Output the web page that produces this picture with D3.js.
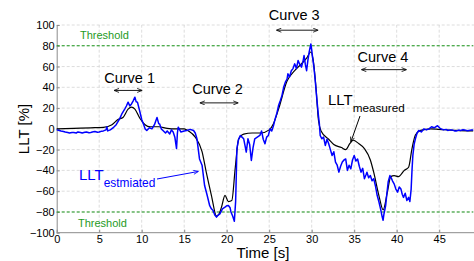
<!DOCTYPE html>
<html><head><meta charset="utf-8">
<script src="https://cdn.jsdelivr.net/npm/d3@7"></script>
<style>body{margin:0;background:#fff}svg{display:block;font-family:"Liberation Sans",Arial,sans-serif}</style>
</head><body><div id="chart"></div>
<script>
const xTicks = [0,5,10,15,20,25,30,35,40,45];
const yTicks = [-100,-80,-60,-40,-20,0,20,40,60,80,100];
const thresholds = [80,-80];
// LLT measured (black, smooth): [time s, %]
const measured = [[0,0],[2,0.5],[4,1],[5.5,1.5],[6.5,4],[7.2,9],[7.8,11],[8.4,19],[8.8,21],[9.2,19],[9.8,10],[10.4,4],[11,2],[12,2],[13,0.5],[14,0],[15,0],[15.5,-2],[16.3,-8],[17.1,-22],[17.6,-42],[18.2,-64],[18.8,-84],[19.1,-82],[19.4,-75],[19.8,-64],[20.2,-70],[20.6,-69],[21.0,-38],[21.4,-10],[22,-5],[23,-4],[24,-4],[25,-1],[25.5,5],[26.1,19],[27.1,46],[28,56],[28.6,61],[29.4,68],[29.9,74],[30.2,65],[30.5,40],[30.8,8],[31.1,-2],[32,-10],[32.6,-15],[33.5,-18],[34,-20],[34.5,-14],[34.9,-11],[35.5,-14],[36.2,-19],[36.9,-30],[37.3,-42],[37.9,-64],[38.4,-78],[38.9,-61],[39.3,-46],[39.7,-45],[40.2,-46],[40.9,-40],[41.4,-37],[41.8,-19],[42.2,-6],[42.8,-1.5],[44,0],[45,-0.5],[47,-1.5],[49,-2]];
// LLT estimated (blue, noisy): [time s, %]
const estimated = [[0,-1],[0.3,-1.5],[0.5,-2],[0.8,-2.5],[1,-3],[1.3,-3.5],[1.5,-4],[1.8,-3.5],[2,-3.5],[2.3,-4],[2.5,-3],[2.8,-3.5],[3,-4],[3.3,-3.2],[3.5,-3],[3.8,-3.8],[4,-3.5],[4.3,-2.8],[4.5,-2.5],[4.8,-3.2],[5,-3],[5.3,-2.2],[5.5,-2],[5.8,-1],[5.9,2],[6.0,-2],[6.3,-1],[6.7,1.5],[7.0,4],[7.4,9.6],[7.7,15],[8.0,19],[8.2,22],[8.4,25.7],[8.6,22],[8.8,24],[9.0,27],[9.2,30.5],[9.35,26],[9.5,25.7],[9.8,16],[10.0,9],[10.2,4.8],[10.4,0],[10.6,-1.6],[10.9,1],[11.2,0],[11.5,4],[11.8,11],[12.0,5],[12.1,4.8],[12.3,0],[12.5,-1.6],[12.8,-4],[13.0,-2],[13.3,-5],[13.5,-1],[13.7,-3],[13.9,-8],[14.1,-19],[14.2,-4],[14.3,1.6],[14.6,-3],[15.0,-2],[15.3,-1.6],[15.7,-0.5],[16.1,-1.6],[16.3,-4],[16.5,-9.6],[16.8,-29],[17.1,-35],[17.4,-54.6],[17.7,-64],[18.0,-74],[18.2,-77],[18.4,-78.6],[18.6,-83],[18.8,-85],[19.0,-83],[19.2,-81.8],[19.5,-77],[19.8,-75.4],[20.0,-74],[20.2,-73.8],[20.4,-76],[20.5,-80],[20.7,-84],[20.9,-89],[21.05,-70],[21.1,-54.6],[21.2,-19],[21.4,-10],[21.6,-6.4],[21.8,-8],[22.0,-9.6],[22.15,-16],[22.3,-22.4],[22.5,-9.6],[22.7,-15],[22.9,-30.5],[23.1,-18],[23.3,-9.6],[23.6,-8],[23.9,-6.4],[24.1,-2],[24.3,-10],[24.5,-14.4],[24.7,-8],[24.9,-6.4],[25.1,0],[25.3,-2],[25.5,3],[25.7,9.6],[25.9,15],[26.1,22.4],[26.3,27],[26.5,32],[26.7,40],[26.9,45],[27.1,48],[27.2,53],[27.4,50],[27.6,56],[27.8,58],[28.0,62.6],[28.2,58],[28.4,65.8],[28.6,62],[28.8,59.4],[29.0,66],[29.1,70.6],[29.25,62],[29.4,56],[29.55,66],[29.7,73.8],[29.9,81.8],[30.0,76],[30.1,69],[30.25,60],[30.4,48],[30.6,29],[30.8,12],[30.9,5],[31.0,-6.4],[31.2,-9.6],[31.4,-8],[31.6,-16],[31.8,-10],[32.0,-14.4],[32.2,-20],[32.4,-25.7],[32.6,-22],[32.8,-32],[33.0,-35],[33.2,-41.7],[33.4,-36],[33.6,-32],[33.8,-30],[34.0,-29],[34.2,-40],[34.4,-35],[34.6,-38.5],[34.8,-30],[35.0,-25.7],[35.2,-31],[35.4,-29],[35.6,-36],[35.8,-41.7],[36.0,-38],[36.2,-48],[36.4,-44],[36.5,-41.7],[36.7,-47],[36.9,-45],[37.1,-50],[37.3,-48],[37.5,-55],[37.7,-64],[37.9,-70],[38.1,-77],[38.3,-85],[38.4,-88],[38.5,-82],[38.7,-74],[38.85,-62],[39.0,-51],[39.2,-45],[39.4,-48],[39.5,-50],[39.7,-53],[39.9,-58],[40.1,-61],[40.3,-56],[40.5,-58],[40.65,-63],[40.8,-66],[41.0,-62],[41.2,-69],[41.4,-66],[41.55,-70],[41.7,-58],[41.8,-40],[41.9,-25.7],[42.05,-15],[42.2,-9.6],[42.4,-4],[42.6,-1.6],[42.9,-3],[43.2,0],[43.5,-1],[43.8,0],[44.1,2],[44.4,1],[44.8,3],[45.1,0.5],[45.5,-1],[45.8,-0.5],[46,-1.5],[46.3,-1],[46.5,-1],[46.8,-2],[47,-2],[47.3,-1.2],[47.5,-1.5],[47.8,-0.8],[48,-1],[48.3,-1.8],[48.5,-1.5],[48.8,-1],[49,-1]];
// Curve annotations: label, arrow start/end time, arrow value level
const curveLabels = ["Curve 1","Curve 2","Curve 3","Curve 4"];
const curveSpans = [[6.8,10],[16.9,21.3],[25.9,30.7],[35.9,41.1]];
const curveLevels = [37,25,95,57];

const W=474,H=261;
const svg=d3.select("#chart").append("svg").attr("width",W).attr("height",H);
const x=d3.scaleLinear().domain([0,49]).range([56.7,473.2]);
const y=d3.scaleLinear().domain([-100,100]).range([232.7,25]);

const defs=svg.append("defs");
function marker(id,color,orient){
  defs.append("marker").attr("id",id).attr("viewBox","0 0 10 10").attr("refX",9).attr("refY",5)
   .attr("markerWidth",6).attr("markerHeight",5).attr("orient",orient).attr("markerUnits","userSpaceOnUse")
   .append("path").attr("d","M0,1 L10,5 L0,9").attr("fill","none").attr("stroke",color).attr("stroke-width",1.6);
}
marker("ah","#000","auto-start-reverse");
marker("ahb","#0000ff","auto");
marker("ahk","#000","auto");

// grid
const g=svg.append("g");
g.selectAll(".gx").data(xTicks.filter(d=>d>0)).join("line")
 .attr("x1",d=>x(d)).attr("x2",d=>x(d)).attr("y1",y(-100)).attr("y2",y(100))
 .attr("stroke","#d4d4d4").attr("stroke-width",0.8).attr("stroke-dasharray","3,2");
g.selectAll(".gy").data(yTicks.filter(d=>d>-100)).join("line")
 .attr("x1",x(0)).attr("x2",W).attr("y1",d=>y(d)).attr("y2",d=>y(d))
 .attr("stroke","#d4d4d4").attr("stroke-width",0.8).attr("stroke-dasharray","3,2");

// axes
const xa=svg.append("g").attr("transform",`translate(0,${y(-100)})`)
 .call(d3.axisBottom(x).tickValues(xTicks).tickSize(-3).tickPadding(3).tickSizeOuter(0));
const ya=svg.append("g").attr("transform",`translate(${x(0)},0)`)
 .call(d3.axisLeft(y).tickValues(yTicks).tickSize(-3).tickPadding(2).tickSizeOuter(0));
[xa,ya].forEach(a=>{
  a.select(".domain").attr("stroke","#8c8c8c");
  a.selectAll(".tick line").attr("stroke","#8c8c8c");
  a.selectAll("text").attr("font-size",11).attr("fill","#000").attr("font-family","Liberation Sans, Arial, sans-serif");
});
xa.select(".domain").attr("d",`M${x(0)},0H${W}`);

// thresholds
svg.selectAll(".th").data(thresholds).join("line")
 .attr("x1",x(0)).attr("x2",x(49)).attr("y1",d=>y(d)).attr("y2",d=>y(d))
 .attr("stroke","#1e9a1e").attr("stroke-width",1.1).attr("stroke-dasharray","3,2");
svg.append("text").attr("x",80).attr("y",38.5).attr("font-size",11).attr("fill","#1e9a1e").text("Threshold");
svg.append("text").attr("x",78).attr("y",226.5).attr("font-size",11).attr("fill","#1e9a1e").text("Threshold");

// lines
const lineK=d3.line().x(d=>x(d[0])).y(d=>y(d[1])).curve(d3.curveMonotoneX);
const lineB=d3.line().x(d=>x(d[0])).y(d=>y(d[1]));
svg.append("path").datum(measured).attr("d",lineK).attr("fill","none").attr("stroke","#000").attr("stroke-width",1.2);
svg.append("path").datum(estimated).attr("d",lineB).attr("fill","none").attr("stroke","#0000ff").attr("stroke-width",1.5).attr("stroke-linejoin","round");

// curve labels and arrows
const labelDx=[1.5,-1.5,-3,-1], labelDy=[7.5,9.3,10,8];
curveLabels.forEach((lab,i)=>{
  const [a,b]=curveSpans[i], lv=curveLevels[i];
  svg.append("line").attr("x1",x(a)).attr("x2",x(b)).attr("y1",y(lv)).attr("y2",y(lv))
   .attr("stroke","#000").attr("stroke-width",0.9).attr("marker-start","url(#ah)").attr("marker-end","url(#ah)");
  svg.append("text").attr("x",(x(a)+x(b))/2+labelDx[i]).attr("y",y(lv)-labelDy[i]).attr("text-anchor","middle")
   .attr("font-size",14.5).attr("fill","#000").text(lab);
});

// LLT measured label
const tm=svg.append("text").attr("x",328).attr("y",105).attr("font-size",15).attr("fill","#000");
tm.append("tspan").text("LLT");
tm.append("tspan").attr("dy",6.5).attr("font-size",11.7).text("measured");
svg.append("line").attr("x1",360).attr("y1",116).attr("x2",351).attr("y2",141.5)
 .attr("stroke","#000").attr("stroke-width",1).attr("marker-end","url(#ahk)");

// LLT estimated label
const te=svg.append("text").attr("x",79).attr("y",180).attr("font-size",15).attr("fill","#0000ff");
te.append("tspan").text("LLT");
te.append("tspan").attr("dy",7).attr("font-size",11.9).text("estmiated");
svg.append("line").attr("x1",157).attr("y1",179).attr("x2",198).attr("y2",171.5)
 .attr("stroke","#0000ff").attr("stroke-width",1).attr("marker-end","url(#ahb)");

// axis titles
svg.append("text").attr("x",263).attr("y",258).attr("text-anchor","middle").attr("font-size",15).text("Time [s]");
svg.append("text").attr("transform","translate(29,129) rotate(-90)").attr("text-anchor","middle").attr("font-size",15).text("LLT [%]");
</script></body></html>
